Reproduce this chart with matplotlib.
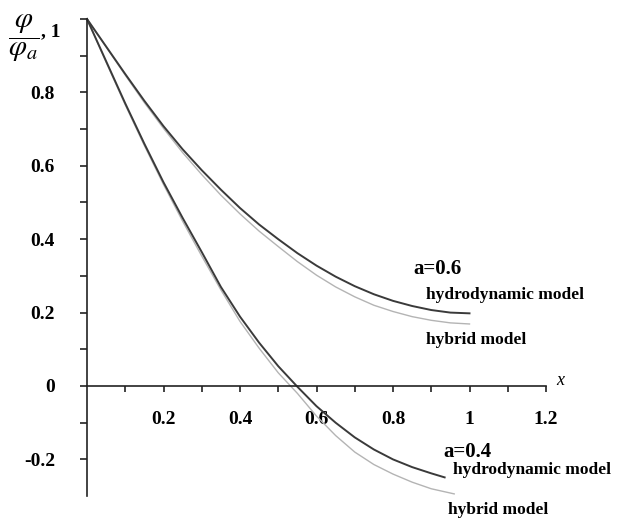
import matplotlib
matplotlib.use('Agg')
from matplotlib import pyplot as plt

# a = 0.6
x06 = [0, 0.05, 0.1, 0.15, 0.2, 0.25, 0.3, 0.35, 0.4, 0.45, 0.5,
       0.55, 0.6, 0.65, 0.7, 0.75, 0.8, 0.85, 0.9, 0.95, 1.0]
hydro06 = [1.0, 0.925, 0.85, 0.777, 0.708, 0.645, 0.588, 0.535, 0.485, 0.44, 0.4,
           0.362, 0.328, 0.298, 0.272, 0.25, 0.232, 0.218, 0.207, 0.2, 0.198]
hybrid06 = [1.0, 0.924, 0.847, 0.772, 0.702, 0.636, 0.576, 0.52, 0.469, 0.422, 0.38,
            0.339, 0.302, 0.27, 0.243, 0.22, 0.203, 0.189, 0.179, 0.172, 0.169]

# a = 0.4
x04_hydro = [0, 0.05, 0.1, 0.15, 0.2, 0.25, 0.3, 0.35, 0.4, 0.45, 0.5,
             0.55, 0.6, 0.65, 0.7, 0.75, 0.8, 0.85, 0.9, 0.935]
hydro04 = [1.0, 0.885, 0.77, 0.66, 0.555, 0.458, 0.365, 0.27, 0.189, 0.118, 0.054,
           -0.002, -0.055, -0.1, -0.14, -0.173, -0.2, -0.221, -0.238, -0.249]
x04_hybrid = [0, 0.05, 0.1, 0.15, 0.2, 0.25, 0.3, 0.35, 0.4, 0.45, 0.5,
              0.55, 0.6, 0.65, 0.7, 0.75, 0.8, 0.85, 0.9, 0.96]
hybrid04 = [1.0, 0.882, 0.766, 0.655, 0.549, 0.449, 0.354, 0.262, 0.176, 0.103, 0.036,
            -0.02, -0.082, -0.135, -0.18, -0.214, -0.24, -0.262, -0.28, -0.294]

xticks = [0.2, 0.4, 0.6, 0.8, 1.0, 1.2]
xtick_labels = ['0.2', '0.4', '0.6', '0.8', '1', '1.2']
yticks = [-0.2, 0, 0.2, 0.4, 0.6, 0.8]
ytick_labels = ['-0.2', '0', '0.2', '0.4', '0.6', '0.8']

plt.rcParams['font.family'] = ['Liberation Serif', 'DejaVu Serif']
plt.rcParams['mathtext.fontset'] = 'stix'

fig = plt.figure(figsize=(6.2, 5.21), dpi=100)
ax = fig.add_axes([87 / 620, 24.9 / 521, 459 / 620, 477.1 / 521])

dark = '#3a3a3a'
light = '#b4b4b4'
ax.plot(x06, hybrid06, color=light, lw=1.0, clip_on=False)
ax.plot(x04_hybrid, hybrid04, color=light, lw=1.0, clip_on=False)
ax.plot(x06, hydro06, color=dark, lw=1.4, clip_on=False)
ax.plot(x04_hydro, hydro04, color=dark, lw=1.4, clip_on=False)

ax.set_xlim(0, 1.2)
ax.set_ylim(-0.3, 1.0)

# axes through the origin
ax.spines['top'].set_visible(False)
ax.spines['right'].set_visible(False)
ax.spines['bottom'].set_position(('data', 0))
for s in ['left', 'bottom']:
    ax.spines[s].set_color('#222222')
    ax.spines[s].set_linewidth(1.2)

ax.set_xticks(xticks)
ax.set_xticklabels(xtick_labels, fontsize=14, fontweight='bold')
ax.set_xticks([0.1, 0.3, 0.5, 0.7, 0.9, 1.1], minor=True)
ax.set_yticks(yticks)
ax.set_yticklabels(ytick_labels, fontsize=14, fontweight='bold')
ax.set_yticks([-0.1, 0.1, 0.3, 0.5, 0.7, 0.9, 1.0], minor=True)
ax.tick_params(axis='x', which='both', direction='out', length=4, width=1.2,
               pad=14, colors='#222222')
ax.tick_params(axis='y', which='both', direction='out', length=5, width=1.2,
               pad=18, colors='#222222')
for lab in ax.get_xticklabels() + ax.get_yticklabels():
    lab.set_color('black')

# y label with ", 1"
fig.text(24 / 620, 1 - 38 / 521, r'$\dfrac{\varphi}{\varphi_a}$', fontsize=21,
         ha='center', va='center')
fig.text(41 / 620, 1 - 32 / 521, ', 1', fontsize=14, fontweight='bold',
         ha='left', va='center')
ax.text(1.237, 0.014, 'x', fontsize=13, style='italic', ha='center', va='center',
        clip_on=False)

# curve labels
ax.text(0.852, 0.319, 'a=0.6', fontsize=15, fontweight='bold', va='center', clip_on=False)
ax.text(0.886, 0.248, 'hydrodynamic model', fontsize=12.5, fontweight='bold',
        va='center', clip_on=False)
ax.text(0.886, 0.125, 'hybrid model', fontsize=12.5, fontweight='bold',
        va='center', clip_on=False)
ax.text(0.931, -0.181, 'a=0.4', fontsize=15, fontweight='bold', va='center', clip_on=False)
ax.text(0.957, -0.230, 'hydrodynamic model', fontsize=12.5, fontweight='bold',
        va='center', clip_on=False)
ax.text(0.944, -0.339, 'hybrid model', fontsize=12.5, fontweight='bold',
        va='center', clip_on=False)

plt.savefig('out.png', dpi=100)
